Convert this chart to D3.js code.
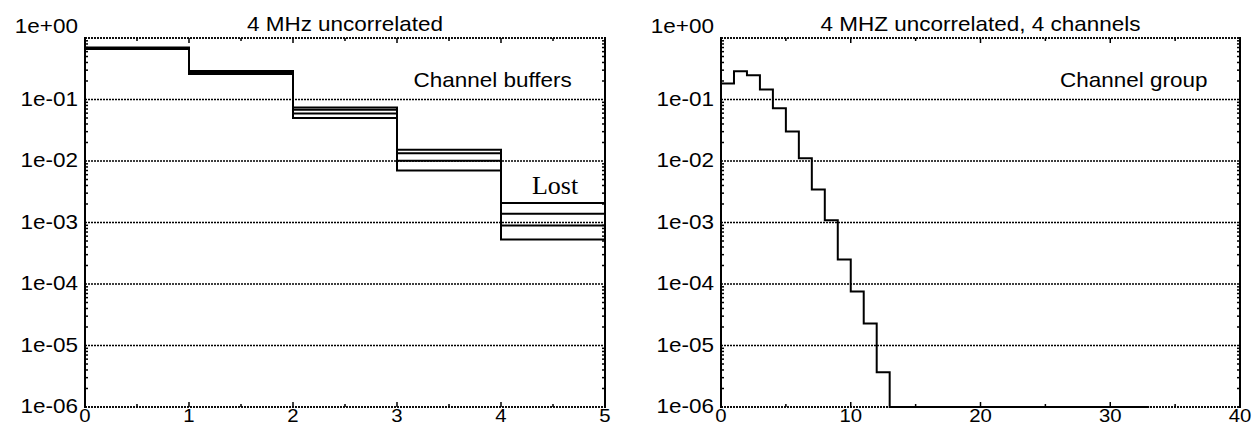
<!DOCTYPE html>
<html>
<head>
<meta charset="utf-8">
<script src="https://cdn.jsdelivr.net/npm/d3@7"></script>
<style>
  body { margin: 0; background: #fff; }
  text { font-family: "Liberation Sans", Arial, sans-serif; fill: #000; }
</style>
</head>
<body>
<div id="main"></div>
<script>
// data
const leftTitle = '4 MHz uncorrelated';
const rightTitle = '4 MHZ uncorrelated, 4 channels';

// left panel: 4 channel buffers, occupancy 0..4 (bins end at 5)
const bufferA = [0.70, 0.29, 0.074, 0.0152, 0.00207];
const bufferB = [0.69, 0.28, 0.068, 0.0134, 0.00139];
const bufferC = [0.68, 0.27, 0.059, 0.0101, 0.00089];
const bufferD = [0.66, 0.26, 0.050, 0.0070, 0.00053];

// right panel: channel group occupancy 0..32 (bins end at 33)
const groupValues = [
    0.182, 0.288, 0.248, 0.145, 0.0722, 0.0302, 0.0111, 0.00344,
    0.00109, 0.00025, 7.55e-5, 2.28e-5, 3.68e-6,
    1e-6, 1e-6, 1e-6, 1e-6, 1e-6, 1e-6, 1e-6, 1e-6, 1e-6, 1e-6,
    1e-6, 1e-6, 1e-6, 1e-6, 1e-6, 1e-6, 1e-6, 1e-6, 1e-6, 1e-6
];

const yDecades = [1, 1e-1, 1e-2, 1e-3, 1e-4, 1e-5, 1e-6];
const yTickLabels = ['1e+00', '1e-01', '1e-02', '1e-03', '1e-04', '1e-05', '1e-06'];
const leftXLabels = [0, 1, 2, 3, 4, 5];
const rightXLabels = [0, 10, 20, 30, 40];

const svgWidth = 1260, svgHeight = 426;
const plotTop = 38, plotBottom = 407;
const stretch = 1.07;
const fontSize = '21px';

const svg = d3.select('#main')
    .append('svg')
    .attr('width', svgWidth)
    .attr('height', svgHeight);

svg.append('rect').attr('width', svgWidth).attr('height', svgHeight).attr('fill', '#fff');

// the original text looks horizontally stretched
function widen(sel) {
    sel.each(function() {
        const w = this.getComputedTextLength();
        this.setAttribute('textLength', w * stretch);
        this.setAttribute('lengthAdjust', 'spacingAndGlyphs');
    });
}

function drawPanel(cfg) {
    const x = d3.scaleLinear().domain(cfg.xDomain).range(cfg.xRange);
    const y = d3.scaleLog().domain([1e-6, 1]).range([plotBottom, plotTop]);
    const g = svg.append('g');
    const [x0, x1] = cfg.xRange;

    // dotted horizontal grid
    g.selectAll('.grid')
        .data(yDecades)
        .enter()
        .append('line')
        .attr('x1', x0).attr('x2', x1)
        .attr('y1', d => y(d)).attr('y2', d => y(d))
        .attr('stroke', '#000')
        .attr('stroke-width', 1.3)
        .attr('stroke-dasharray', '2,1');

    // minor log ticks on left and right edges
    const minors = [];
    for (let e = -6; e < 0; e++) {
        for (let m = 2; m <= 9; m++) minors.push(m * Math.pow(10, e));
    }
    [[x0, 1], [x1, -1]].forEach(([xp, dir]) => {
        g.selectAll(null)
            .data(minors)
            .enter()
            .append('line')
            .attr('x1', xp).attr('x2', xp + dir * 3)
            .attr('y1', d => y(d)).attr('y2', d => y(d))
            .attr('stroke', '#000')
            .attr('stroke-width', 1.5);
    });

    // x ticks on top and bottom edges
    const xMinor = d3.range(cfg.xDomain[0], cfg.xDomain[1] + 1e-9, cfg.minorStep);
    [[plotBottom, -1], [plotTop, 1]].forEach(([yp, dir]) => {
        g.selectAll(null)
            .data(xMinor)
            .enter()
            .append('line')
            .attr('x1', d => x(d)).attr('x2', d => x(d))
            .attr('y1', yp)
            .attr('y2', d => yp + dir * (Math.abs(d / cfg.majorStep - Math.round(d / cfg.majorStep)) < 1e-9 ? 5 : 3))
            .attr('stroke', '#000')
            .attr('stroke-width', 1.5);
    });

    // series as step lines
    const line = d3.line()
        .x(d => x(d[0]))
        .y(d => y(d[1]))
        .curve(d3.curveStepAfter);
    g.selectAll('.series')
        .data(cfg.series)
        .enter()
        .append('path')
        .attr('fill', 'none')
        .attr('stroke', '#000')
        .attr('stroke-width', 2)
        .attr('d', vals => {
            const pts = vals.map((v, i) => [i, v]);
            pts.push([vals.length, vals[vals.length - 1]]);
            return line(pts);
        });

    // frame: dotted top/bottom, solid left/right
    [plotTop, plotBottom].forEach(yp => {
        g.append('line')
            .attr('x1', x0).attr('x2', x1)
            .attr('y1', yp).attr('y2', yp)
            .attr('stroke', '#000')
            .attr('stroke-width', 1.5)
            .attr('stroke-dasharray', '2,1');
    });
    [x0, x1].forEach(xp => {
        g.append('line')
            .attr('x1', xp).attr('x2', xp)
            .attr('y1', plotTop - 1).attr('y2', plotBottom + 1)
            .attr('stroke', '#000')
            .attr('stroke-width', 2);
    });

    // y labels
    g.selectAll('.ylab')
        .data(yDecades)
        .enter()
        .append('text')
        .attr('x', x0 - 7)
        .attr('y', (d, i) => y(d) + (i === 0 ? -5 : 6))
        .attr('text-anchor', 'end')
        .style('font-size', fontSize)
        .text((d, i) => yTickLabels[i])
        .call(widen);

    // x labels (kept inside the bottom edge)
    g.selectAll('.xlab')
        .data(cfg.xLabels)
        .enter()
        .append('text')
        .attr('x', d => x(d))
        .attr('y', 421.5)
        .attr('text-anchor', 'middle')
        .style('font-size', '19px')
        .text(d => d)
        .call(widen);

    // title
    g.append('text')
        .attr('x', (x0 + x1) / 2)
        .attr('y', 31)
        .attr('text-anchor', 'middle')
        .style('font-size', fontSize)
        .text(cfg.title)
        .call(widen);

    // notes
    cfg.notes.forEach(n => {
        const t = g.append('text')
            .attr('x', x(n.x))
            .attr('y', y(n.y))
            .attr('text-anchor', n.anchor)
            .style('font-size', n.size)
            .text(n.text);
        if (n.serif) {
            t.style('font-family', '"Liberation Serif", "Times New Roman", serif');
        } else {
            t.call(widen);
        }
    });
}

drawPanel({
    xDomain: [0, 5], xRange: [85, 605],
    minorStep: 0.5, majorStep: 1,
    xLabels: leftXLabels,
    title: leftTitle,
    series: [bufferA, bufferB, bufferC, bufferD],
    notes: [
        { text: 'Channel buffers', x: 4.68, y: 0.16, anchor: 'end', size: fontSize },
        { text: 'Lost', x: 4.52, y: 0.0029, anchor: 'middle', size: '26px', serif: true }
    ]
});

drawPanel({
    xDomain: [0, 40], xRange: [721, 1240],
    minorStep: 5, majorStep: 10,
    xLabels: rightXLabels,
    title: rightTitle,
    series: [groupValues],
    notes: [
        { text: 'Channel group', x: 37.5, y: 0.16, anchor: 'end', size: fontSize }
    ]
});
</script>
</body>
</html>
